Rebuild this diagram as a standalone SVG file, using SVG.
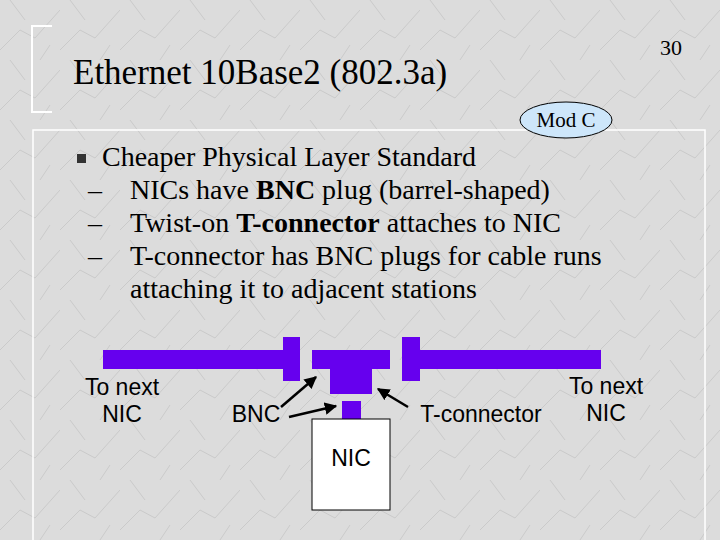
<svg xmlns="http://www.w3.org/2000/svg" width="720" height="540" viewBox="0 0 720 540">
<defs>
<style>
.t{font-family:"Liberation Serif",serif;fill:#000}
.s{font-family:"Liberation Sans",sans-serif;fill:#000;font-size:23px}
.p{fill:#6600ee}
.a{stroke:#000;stroke-width:2.5;fill:none;marker-end:url(#ah)}
</style>
<marker id="ah" viewBox="0 0 10 10" refX="9" refY="5" markerWidth="5" markerHeight="5" orient="auto"><path d="M0,0L10,5L0,10z" fill="#000"/></marker>
<pattern id="m" width="60" height="60" patternUnits="userSpaceOnUse"><rect width="60" height="60" fill="#dcdcdc"/><path d="M0,50L20,30L35,38L60,10M10,0L25,20M40,60L50,45" stroke="#cacaca" stroke-width="1" fill="none"/></pattern>
</defs>
<rect width="720" height="540" fill="url(#m)"/>
<path d="M52,26H32V112H52" stroke="#fff" stroke-width="2" fill="none"/>
<rect x="33" y="130" width="672" height="412" stroke="#fff" stroke-width="1.5" fill="none"/>
<text class="t" x="73" y="84" font-size="35">Ethernet 10Base2 (802.3a)</text>
<text class="t" x="660" y="55" font-size="22">30</text>
<g id="modc"><ellipse cx="566" cy="120" rx="46" ry="18" fill="#cde6fa" stroke="#000"/><text class="t" x="566" y="127" font-size="21" text-anchor="middle">Mod C</text></g>
<rect x="77" y="154" width="9" height="9" fill="#333"/>
<g class="t" font-size="28">
<text x="102" y="166">Cheaper Physical Layer Standard</text>
<text x="88" y="199">–</text><text x="130" y="199">NICs have <tspan font-weight="bold">BNC</tspan> plug (barrel-shaped)</text>
<text x="88" y="232">–</text><text x="130" y="232">Twist-on <tspan font-weight="bold">T-connector</tspan> attaches to NIC</text>
<text x="88" y="265">–</text><text x="130" y="265">T-connector has BNC plugs for cable runs</text>
<text x="130" y="298">attaching it to adjacent stations</text>
</g>
<g id="leftcable"><rect class="p" x="103" y="350" width="180" height="19"/><rect class="p" x="283" y="337" width="17" height="44"/></g>
<g id="rightcable"><rect class="p" x="402" y="337" width="18" height="44"/><rect class="p" x="420" y="350" width="181" height="19"/></g>
<g id="tconn"><rect class="p" x="312" y="350" width="78" height="19"/><rect class="p" x="330" y="350" width="42" height="44"/></g>
<g id="nic"><rect class="p" x="342" y="401" width="19" height="18"/><rect x="312" y="419" width="78" height="91" fill="#fff" stroke="#000"/><text class="s" x="351" y="466" text-anchor="middle">NIC</text></g>
<g id="labels">
<text class="s" x="122" y="395" text-anchor="middle">To next</text><text class="s" x="122" y="422" text-anchor="middle">NIC</text>
<text class="s" x="256" y="422" text-anchor="middle">BNC</text>
<text class="s" x="481" y="422" text-anchor="middle">T-connector</text>
<text class="s" x="606" y="394" text-anchor="middle">To next</text><text class="s" x="606" y="421" text-anchor="middle">NIC</text>
</g>
<g id="connectors">
<line class="a" x1="281" y1="407" x2="316" y2="377"/>
<line class="a" x1="289" y1="417" x2="336" y2="406"/>
<line class="a" x1="408" y1="407" x2="378" y2="389"/>
</g>
</svg>
